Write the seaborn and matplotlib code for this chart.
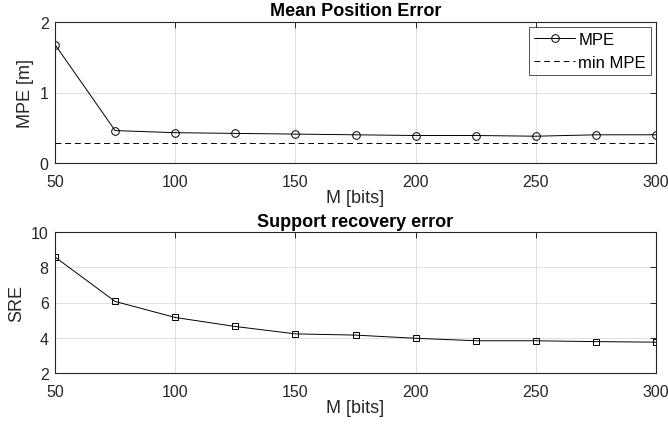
import matplotlib
matplotlib.use("Agg")
import matplotlib.pyplot as plt
import pandas as pd
import seaborn as sns

M_bits = [50, 75, 100, 125, 150, 175, 200, 225, 250, 275, 300]
mpe = [1.68, 0.46, 0.43, 0.42, 0.41, 0.40, 0.39, 0.39, 0.38, 0.40, 0.40]
min_mpe = 0.28
sre = [8.58, 6.06, 5.15, 4.64, 4.22, 4.15, 3.97, 3.83, 3.83, 3.78, 3.75]

sns.set_style("white")
plt.rcParams["font.family"] = ["Liberation Sans", "DejaVu Sans"]

df = pd.DataFrame({"M": M_bits, "MPE": mpe, "SRE": sre})

W, H = 668, 427
fig = plt.figure(figsize=(W / 100, H / 100), dpi=100)
ax1 = fig.add_axes([55 / W, 1 - 164 / H, 601 / W, 141 / H])
ax2 = fig.add_axes([55 / W, 1 - 374 / H, 601 / W, 141 / H])

edge = "#262626"


def style_axes(ax, yticks):
    ax.set_xlim(50, 300)
    ax.set_xticks(range(50, 301, 50))
    ax.set_yticks(yticks)
    ax.set_ylim(yticks[0], yticks[-1])
    ax.grid(True, color="#dedede", linewidth=0.7)
    ax.set_axisbelow(True)
    for s in ax.spines.values():
        s.set_color(edge)
        s.set_linewidth(0.8)
    ax.tick_params(direction="in", length=4.3, width=0.7, colors=edge,
                   top=True, right=True, labelsize=11.5, labelcolor=edge)
    ax.tick_params(axis="x", pad=8)
    ax.tick_params(axis="y", pad=4.5)
    ax.set_xlabel("M [bits]", fontsize=13, labelpad=0, color=edge)


sns.lineplot(data=df, x="M", y="MPE", ax=ax1, color="black", linewidth=0.7,
             marker="o", markersize=5.5, markerfacecolor="none",
             markeredgecolor="black", markeredgewidth=0.7, label="MPE")
ax1.axhline(min_mpe, color="black", linestyle=(0, (6, 4)), linewidth=0.7,
            label="min MPE")
style_axes(ax1, [0, 1, 2])
ax1.set_ylabel("MPE [m]", fontsize=13, color=edge, labelpad=4)
ax1.set_title("Mean Position Error", fontsize=13, fontweight="bold", pad=5,
              color="black")
leg = ax1.legend(loc="upper right", fontsize=12, frameon=True, fancybox=False,
                 borderpad=0.3, labelspacing=0.45, handlelength=2.45,
                 handletextpad=0.2, borderaxespad=0.3)
leg.get_frame().set_edgecolor(edge)
leg.get_frame().set_linewidth(0.7)
for t in leg.get_texts():
    t.set_color("black")

sns.lineplot(data=df, x="M", y="SRE", ax=ax2, color="black", linewidth=0.7,
             marker="s", markersize=5, markerfacecolor="none",
             markeredgecolor="black", markeredgewidth=0.7)
style_axes(ax2, [2, 4, 6, 8, 10])
ax2.set_ylabel("SRE", fontsize=13, color=edge, labelpad=4)
ax2.set_title("Support recovery error", fontsize=13, fontweight="bold", pad=4,
              color="black")

fig.savefig("out.png", dpi=100)
